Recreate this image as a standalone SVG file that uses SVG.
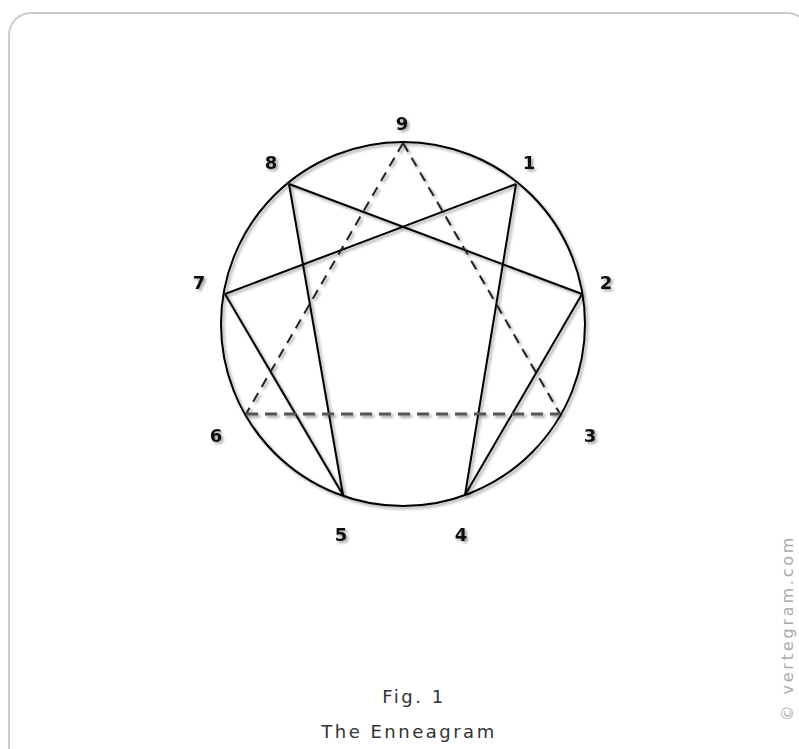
<svg xmlns="http://www.w3.org/2000/svg" width="799" height="749" viewBox="0 0 799 749">
<style>
.lbl{font-family:"DejaVu Sans",Verdana,sans-serif;font-weight:bold;font-size:18px;fill:#111;text-anchor:middle}
.cap{font-family:"DejaVu Sans",Verdana,sans-serif;font-size:18px;letter-spacing:2.5px;fill:#333;text-anchor:middle}
.solid{stroke:#000;stroke-width:2;fill:none}
.dash{stroke:#222;stroke-width:2;fill:none;stroke-dasharray:10 7}
.dash2{stroke:#555;stroke-width:3;fill:none;stroke-dasharray:12 7}
</style>
<defs>
<filter id="sh" x="-10%" y="-10%" width="120%" height="120%">
<feGaussianBlur in="SourceAlpha" stdDeviation="1.5"/>
<feOffset dx="1.5" dy="2" result="b"/>
<feComponentTransfer><feFuncA type="linear" slope="0.4"/></feComponentTransfer>
<feMerge><feMergeNode/><feMergeNode in="SourceGraphic"/></feMerge>
</filter>
</defs>
<rect x="0" y="0" width="799" height="749" fill="#fff"/>
<rect id="panel" x="9" y="13" width="800" height="760" rx="22" fill="#fff" stroke="#ccc" stroke-width="2"/>
<g id="circle" filter="url(#sh)">
<circle cx="403" cy="324" r="182" class="solid"/>
</g>
<g id="connectors" filter="url(#sh)">
<line x1="516" y1="184" x2="465" y2="495" class="solid"/>
<line x1="465" y1="495" x2="582" y2="294" class="solid"/>
<line x1="582" y1="294" x2="289" y2="184" class="solid"/>
<line x1="289" y1="184" x2="343" y2="495" class="solid"/>
<line x1="343" y1="495" x2="225" y2="294" class="solid"/>
<line x1="225" y1="294" x2="516" y2="184" class="solid"/>
<line x1="403" y1="143" x2="560" y2="414" class="dash"/>
<line x1="403" y1="143" x2="246" y2="414" class="dash"/>
<line x1="246" y1="414" x2="560" y2="414" class="dash2"/>
</g>
<g id="labels" filter="url(#sh)">
<g id="n9"><text x="402" y="130" class="lbl">9</text></g>
<g id="n1"><text x="529" y="169" class="lbl">1</text></g>
<g id="n2"><text x="606" y="289" class="lbl">2</text></g>
<g id="n3"><text x="590" y="442" class="lbl">3</text></g>
<g id="n4"><text x="461" y="541" class="lbl">4</text></g>
<g id="n5"><text x="341" y="541" class="lbl">5</text></g>
<g id="n6"><text x="216" y="442" class="lbl">6</text></g>
<g id="n7"><text x="199" y="289" class="lbl">7</text></g>
<g id="n8"><text x="271" y="169" class="lbl">8</text></g>
</g>
<g id="caption">
<text x="414" y="703" class="cap">Fig. 1</text>
<text x="409" y="738" class="cap">The Enneagram</text>
</g>
<text transform="translate(793,628) rotate(-90)" text-anchor="middle" font-family="DejaVu Sans,Verdana,sans-serif" font-size="16" letter-spacing="2.8" fill="#aaa">© vertegram.com</text>
</svg>
